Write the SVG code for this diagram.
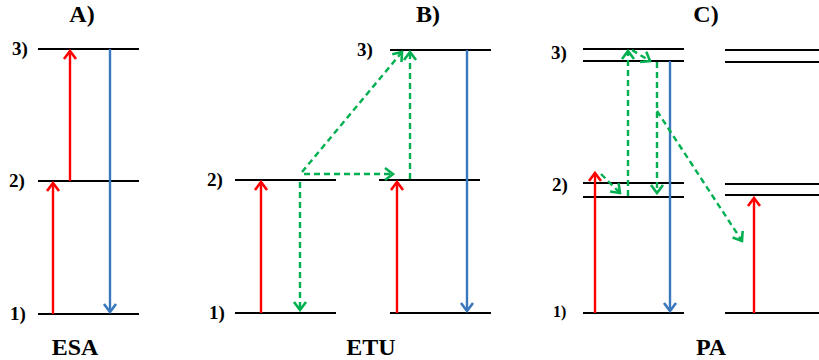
<svg xmlns="http://www.w3.org/2000/svg" width="819" height="360" viewBox="0 0 819 360">
<style>
.lvl{stroke:#000;stroke-width:2.2;fill:none}
.lab{font-weight:bold;font-size:19px;fill:#000}
.ttl{font-weight:bold;font-size:24px;fill:#000;text-anchor:middle}
.red{stroke:#ff0000;stroke-width:2.4;fill:none;marker-end:url(#mr)}
.blue{stroke:#3a78bd;stroke-width:2.4;fill:none;marker-end:url(#mb)}
.grn{stroke:#00b050;stroke-width:2.4;fill:none;stroke-dasharray:6 4;marker-end:url(#mg)}
</style>
<defs>
<marker id="mr" viewBox="0 0 12 16" refX="10" refY="8" markerWidth="12" markerHeight="16" markerUnits="userSpaceOnUse" orient="auto"><path d="M2,2 L10,8 L2,14" fill="none" stroke="#ff0000" stroke-width="2.6"/></marker>
<marker id="mb" viewBox="0 0 12 16" refX="10" refY="8" markerWidth="12" markerHeight="16" markerUnits="userSpaceOnUse" orient="auto"><path d="M2,2 L10,8 L2,14" fill="none" stroke="#3a78bd" stroke-width="2.6"/></marker>
<marker id="mg" viewBox="0 0 12 16" refX="10" refY="8" markerWidth="12" markerHeight="16" markerUnits="userSpaceOnUse" orient="auto"><path d="M2,2 L10,8 L2,14" fill="none" stroke="#00b050" stroke-width="2.6"/></marker>
</defs>
<rect width="819" height="360" fill="#fff"/>

<g font-family="'Liberation Serif', 'Times New Roman', 'DejaVu Serif', serif">
<g id="panelA">
<text class="ttl" x="82" y="22">A)</text>
<g id="A-l3"><line class="lvl" x1="38" y1="49" x2="139" y2="49"/><text class="lab" x="12" y="55">3)</text></g>
<g id="A-l2"><line class="lvl" x1="38" y1="181" x2="139" y2="181"/><text class="lab" x="9" y="187">2)</text></g>
<g id="A-l1"><line class="lvl" x1="38" y1="314" x2="139" y2="314"/><text class="lab" x="10" y="320">1)</text></g>
<text class="ttl" x="75" y="355">ESA</text>
</g>

<g id="panelB">
<text class="ttl" x="428" y="22">B)</text>
<g id="B-l2a"><line class="lvl" x1="235" y1="180" x2="336" y2="180"/><text class="lab" x="207" y="186">2)</text></g>
<g id="B-l1a"><line class="lvl" x1="235" y1="313" x2="336" y2="313"/><text class="lab" x="209" y="319">1)</text></g>
<g id="B-l3b"><line class="lvl" x1="390" y1="50" x2="491" y2="50"/><text class="lab" x="357" y="56">3)</text></g>
<g id="B-l2b"><line class="lvl" x1="379" y1="180" x2="480" y2="180"/></g>
<g id="B-l1b"><line class="lvl" x1="390" y1="313" x2="491" y2="313"/></g>
<text class="ttl" x="371" y="355">ETU</text>
</g>

<g id="panelC">
<text class="ttl" x="706" y="22">C)</text>
<g id="C-l3"><line class="lvl" x1="583" y1="49" x2="684" y2="49"/><line class="lvl" x1="583" y1="61" x2="684" y2="61"/><text class="lab" x="551" y="59">3)</text></g>
<g id="C-l2"><line class="lvl" x1="583" y1="183" x2="684" y2="183"/><line class="lvl" x1="583" y1="197" x2="684" y2="197"/><text class="lab" x="552" y="191">2)</text></g>
<g id="C-l1"><line class="lvl" x1="583" y1="313" x2="684" y2="313"/><text class="lab" x="553" y="317" style="font-size:16px">1)</text></g>
<g id="C-r3"><line class="lvl" x1="725" y1="50" x2="819" y2="50"/><line class="lvl" x1="725" y1="62" x2="819" y2="62"/></g>
<g id="C-r2"><line class="lvl" x1="725" y1="184" x2="819" y2="184"/><line class="lvl" x1="725" y1="195" x2="819" y2="195"/></g>
<g id="C-r1"><line class="lvl" x1="725" y1="313" x2="819" y2="313"/></g>
<text class="ttl" x="711" y="355">PA</text>
</g>
</g>

<g id="connectors">
<line class="red" x1="53" y1="314" x2="53" y2="183"/>
<line class="red" x1="70" y1="181" x2="70" y2="51"/>
<line class="blue" x1="110" y1="49" x2="110" y2="312"/>

<line class="red" x1="261" y1="313" x2="261" y2="182"/>
<line class="red" x1="397" y1="313" x2="397" y2="182"/>
<line class="blue" x1="467" y1="50" x2="467" y2="311"/>
<line class="grn" x1="302" y1="172" x2="402" y2="52"/>
<line class="grn" x1="304" y1="174" x2="393" y2="174"/>
<line class="grn" x1="410" y1="179" x2="410" y2="52"/>
<line class="grn" x1="300" y1="182" x2="300" y2="310"/>

<line class="red" x1="595" y1="313" x2="595" y2="173"/>
<line class="red" x1="754" y1="313" x2="754" y2="198"/>
<line class="blue" x1="670" y1="61" x2="670" y2="311"/>
<line class="grn" x1="601" y1="174" x2="620" y2="193"/>
<line class="grn" x1="628" y1="196" x2="628" y2="51"/>
<line class="grn" x1="632" y1="50" x2="650" y2="61"/>
<line class="grn" x1="657" y1="62" x2="657" y2="193"/>
<line class="grn" x1="657" y1="111" x2="742" y2="241"/>
</g>
</svg>
